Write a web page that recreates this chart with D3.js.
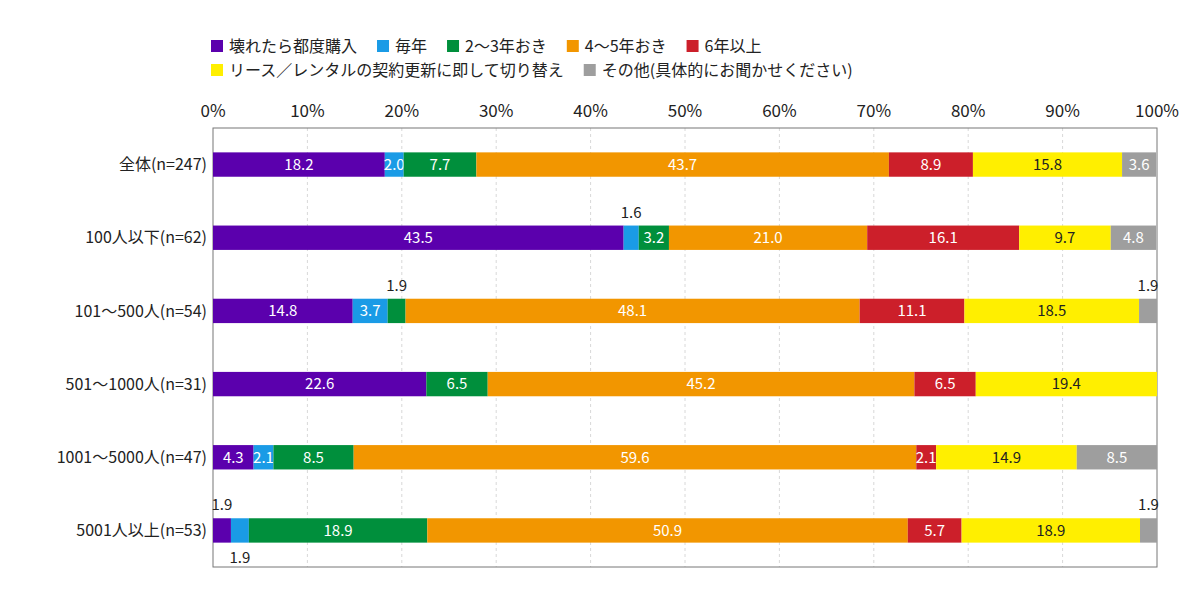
<!DOCTYPE html>
<html><head><meta charset="utf-8">
<script src="https://cdn.jsdelivr.net/npm/d3@7"></script>
<style>body{margin:0;background:#fff;font-family:"Noto Sans CJK JP","Noto Sans",sans-serif;}</style>
</head><body><svg id="c" width="1200" height="606"></svg>
<script>
const categories=["全体(n=247)","100人以下(n=62)","101～500人(n=54)","501～1000人(n=31)","1001～5000人(n=47)","5001人以上(n=53)"];
const seriesNames=["壊れたら都度購入","毎年","2～3年おき","4～5年おき","6年以上","リース／レンタルの契約更新に即して切り替え","その他(具体的にお聞かせください)"];
const colors=["#5b00ad","#1a9be6","#008f3c","#f29600","#cc1f2a","#ffef00","#9e9e9e"];
const values=[
 [18.2,2.0,7.7,43.7,8.9,15.8,3.6],
 [43.5,1.6,3.2,21.0,16.1,9.7,4.8],
 [14.8,3.7,1.9,48.1,11.1,18.5,1.9],
 [22.6,0,6.5,45.2,6.5,19.4,0],
 [4.3,2.1,8.5,59.6,2.1,14.9,8.5],
 [1.9,1.9,18.9,50.9,5.7,18.9,1.9]
];
// label placement for small segments: "above" / "below"
const outside={"1-1":"above","2-2":"above","2-6":"above","5-0":"above","5-1":"below","5-6":"above"};
const ticks=[0,10,20,30,40,50,60,70,80,90,100];

const svg=d3.select("#c");
const L=213,R=1157,T=128,B=567;
const x=d3.scaleLinear().domain([0,100]).range([L,R]);
const y=d3.scaleBand().domain(categories).range([T,B]).paddingInner(0.667).paddingOuter(0.333);

// grid
svg.selectAll(".g").data(ticks.slice(1,-1)).join("line")
 .attr("x1",d=>x(d)).attr("x2",d=>x(d)).attr("y1",T).attr("y2",B)
 .attr("stroke","#d8d8d8").attr("stroke-dasharray","3,3");
svg.append("rect").attr("x",L).attr("y",T).attr("width",R-L).attr("height",B-T)
 .attr("fill","none").attr("stroke","#777").attr("stroke-width",1);
svg.selectAll(".tk").data(ticks).join("text")
 .attr("x",d=>x(d)).attr("y",T-11).attr("text-anchor","middle")
 .attr("font-size",17).attr("fill","#222").text(d=>d+"%");
svg.selectAll(".cat").data(categories).join("text")
 .attr("x",L-6).attr("y",d=>y(d)+y.bandwidth()/2).attr("dy","0.35em")
 .attr("text-anchor","end").attr("font-size",16).attr("fill","#222").text(d=>d);

values.forEach((row,i)=>{
 let acc=0;
 const yy=y(categories[i]),h=y.bandwidth();
 row.forEach((v,j)=>{
  const x0=acc; acc+=v;
  if(v<=0) return;
  svg.append("rect").attr("x",x(x0)).attr("y",yy).attr("width",Math.min(x(acc),R)-x(x0)).attr("height",h).attr("fill",colors[j]);
  const key=i+"-"+j, cx=(x(x0)+Math.min(x(acc),R))/2;
  const t=svg.append("text").attr("text-anchor","middle").attr("font-size",15).text(v.toFixed(1));
  if(outside[key]==="above") t.attr("x",cx).attr("y",yy-8).attr("fill","#222");
  else if(outside[key]==="below") t.attr("x",cx).attr("y",yy+h+20).attr("fill","#222");
  else t.attr("x",cx).attr("y",yy+h/2).attr("dy","0.36em").attr("fill",j===5?"#222":"#fff");
 });
});

// legend
const rows=[[0,1,2,3,4],[5,6]];
rows.forEach((r,ri)=>{
 let lx=211; const ly=46+ri*24;
 r.forEach(j=>{
  svg.append("rect").attr("x",lx).attr("y",ly-6).attr("width",12).attr("height",12).attr("fill",colors[j]);
  const t=svg.append("text").attr("x",lx+18).attr("y",ly).attr("dy","0.35em").attr("font-size",16).attr("fill","#222").text(seriesNames[j]);
  lx+=18+t.node().getComputedTextLength()+20;
 });
});
</script></body></html>
